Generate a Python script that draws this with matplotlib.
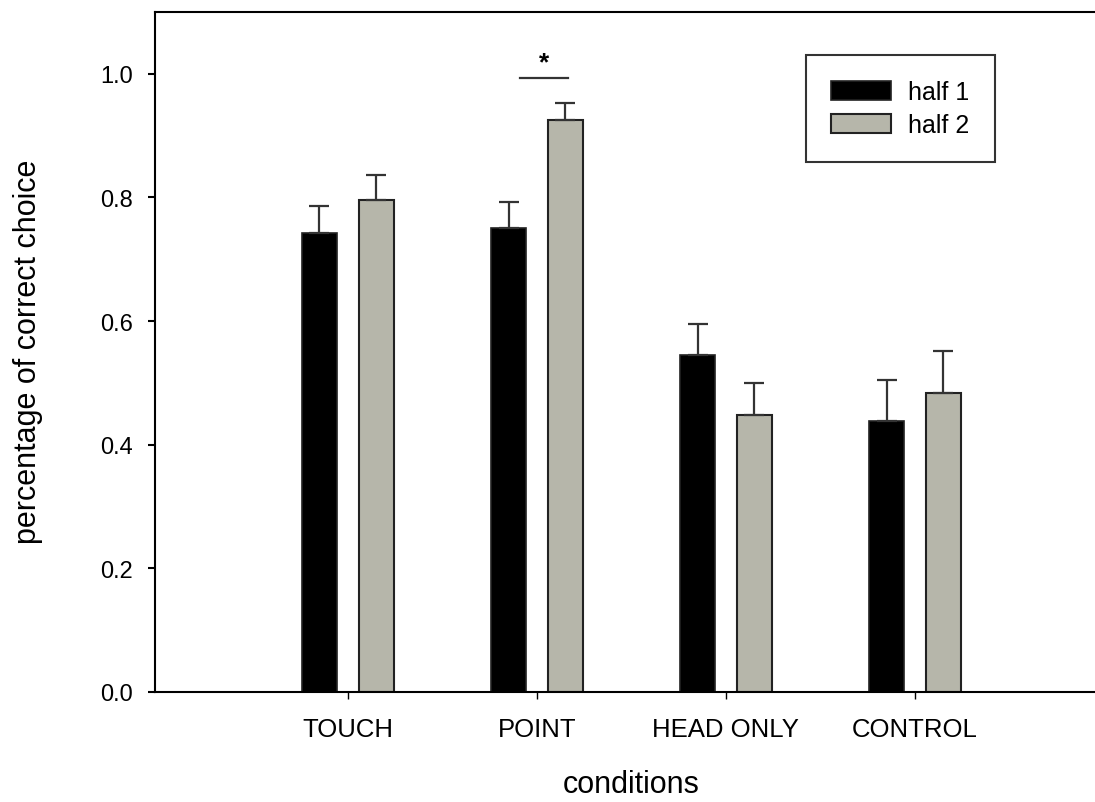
import matplotlib
matplotlib.use('Agg')
import matplotlib.pyplot as plt
import numpy as np

plt.rcParams['font.family'] = ['Liberation Sans', 'DejaVu Sans']

# data
conditions = ["TOUCH", "POINT", "HEAD ONLY", "CONTROL"]
half1 = [0.743, 0.751, 0.545, 0.438]
half1_err = [0.043, 0.042, 0.050, 0.067]
half2 = [0.796, 0.926, 0.448, 0.484]
half2_err = [0.041, 0.027, 0.052, 0.068]

W, H = 1095, 803
fig = plt.figure(figsize=(W / 100, H / 100), dpi=100)
ax = fig.add_axes([155 / W, (H - 693) / H, (1104 - 155) / W, 680 / H])

x = np.arange(len(conditions))
bw = 0.185
off = 0.15
err_kw = dict(ecolor='#333333', elinewidth=1.6, capsize=7.5, capthick=1.6)
ax.bar(x - off, half1, bw, color='black', edgecolor='#222222', linewidth=1.2,
       yerr=[np.zeros(4), half1_err], error_kw=err_kw, label='half 1', zorder=2)
ax.bar(x + off, half2, bw, color='#b6b6aa', edgecolor='#222222', linewidth=1.5,
       yerr=[np.zeros(4), half2_err], error_kw=err_kw, label='half 2', zorder=2)

ax.set_xlim(-1.02, 4.0)
ax.set_ylim(0, 1.10)
ax.set_yticks([0.0, 0.2, 0.4, 0.6, 0.8, 1.0])
ax.set_yticklabels(['0.0', '0.2', '0.4', '0.6', '0.8', '1.0'])
ax.set_xticks(x)
ax.set_xticklabels(conditions)
ax.tick_params(axis='y', length=5, width=1.5, pad=11, labelsize=17)
ax.tick_params(axis='x', length=5, width=1.0, pad=13, labelsize=18.5)
for s in ['left', 'bottom', 'top']:
    ax.spines[s].set_linewidth(1.5)
ax.spines['right'].set_visible(False)

# significance marker over POINT
ax.plot([1 - 0.09, 1 + 0.164], [0.994, 0.994], color='#333333', lw=1.6)
ax.text(1 + 0.04, 1.0, '*', ha='center', va='bottom', fontsize=19, fontweight='bold')

fig.text(28 / W, 1 - 352 / H, 'percentage of correct choice', rotation=90,
         ha='center', va='center', fontsize=22)
fig.text(631 / W, 1 - 785 / H, 'conditions', ha='center', va='center', fontsize=22)

leg = ax.legend(loc='upper left', bbox_to_anchor=((806 - 155) / (1104 - 155), (693 - 56) / 680),
                frameon=True, fancybox=False, fontsize=18, handlelength=2.4,
                handleheight=0.8, labelspacing=0.35, borderpad=1.0, handletextpad=0.7,
                borderaxespad=0)
leg.get_frame().set_edgecolor('black')
leg.get_frame().set_linewidth(1.5)

fig.savefig('out.png', dpi=100, facecolor='white')
